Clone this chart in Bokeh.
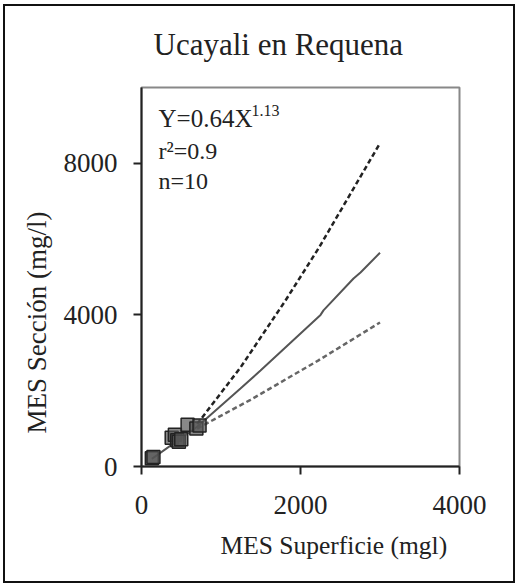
from bokeh.plotting import figure
from bokeh.models import Range1d, FixedTicker, Label, Title
from bokeh.embed import file_html
from bokeh.resources import INLINE

# observed points (MES superficie vs MES seccion)
obs_x = [130, 150, 380, 420, 450, 470, 500, 580, 690, 730]
obs_y = [220, 250, 760, 840, 690, 650, 720, 1100, 1000, 1080]

# fitted power curve
fit_x = [130, 700, 1245, 1497, 2252, 2289, 2667, 2755, 3000]
fit_y = [200, 1050, 2058, 2533, 4000, 4120, 4960, 5119, 5640]

# upper band
up_x = [700, 1245, 1811, 2226, 3000]
up_y = [1120, 2612, 4380, 5752, 8530]

# lower band
lo_x = [700, 1371, 2226, 3000]
lo_y = [1000, 1760, 2800, 3800]

x_ticks = [0, 2000, 4000]
y_ticks = [0, 4000, 8000]

title_text = "Ucayali en Requena"
x_label = "MES Superficie (mgl)"
y_label = "MES Sección (mg/l)"
eq_text = "Y=0.64X"
eq_exp = "1.13"
r2_text = "r²=0.9"
n_text = "n=10"

FONT = "Liberation Serif"
INK = "#222222"

p = figure(width=518, height=587, output_backend="svg", toolbar_location=None,
           x_range=Range1d(0, 4000), y_range=Range1d(0, 10000),
           min_border_left=141, min_border_right=59, min_border_top=87, min_border_bottom=121)
p.background_fill_color = "white"
p.border_fill_color = None
p.outline_line_color = "#888888"
p.outline_line_width = 2
p.grid.visible = False
# outer frame painted as the host background (behind the transparent canvas border area)
p.styles = {
    "background-color": "#ffffff",
    "background-image": ("linear-gradient(#111111,#111111), linear-gradient(#111111,#111111), "
                         "linear-gradient(#111111,#111111), linear-gradient(#111111,#111111)"),
    "background-size": "512px 2px, 512px 2px, 2px 579px, 2px 579px",
    "background-position": "3px 4px, 3px 581px, 3px 4px, 513px 4px",
    "background-repeat": "no-repeat",
}

for ax in (p.xaxis[0], p.yaxis[0]):
    ax.axis_line_color = INK
    ax.axis_line_width = 2
    ax.major_tick_line_color = INK
    ax.major_tick_line_width = 2
    ax.major_tick_out = 8
    ax.major_tick_in = 0
    ax.minor_tick_line_color = None
    ax.major_label_text_font = FONT
    ax.major_label_text_font_size = "27px"
    ax.major_label_text_color = INK

p.xaxis.ticker = FixedTicker(ticks=x_ticks)
p.yaxis.ticker = FixedTicker(ticks=y_ticks)
p.xaxis.major_label_standoff = 21
p.yaxis.major_label_standoff = 16

# title and axis labels as title panels (unclipped, offset along the side)
p.title = Title(text=title_text, align="left", offset=12, standoff=48, vertical_align="top",
                text_font=FONT, text_font_size="31px", text_font_style="normal",
                text_color=INK)
p.add_layout(Title(text=x_label, align="left", offset=79, standoff=25,
                   text_font=FONT, text_font_size="25.5px", text_font_style="normal",
                   text_color=INK), "below")
p.add_layout(Title(text=y_label, align="left", offset=33, standoff=17,
                   text_font=FONT, text_font_size="27px", text_font_style="normal",
                   text_color=INK), "left")

# lines
p.line(up_x, up_y, line_color="#222222", line_width=2.5, line_dash="5 3")
p.line(lo_x, lo_y, line_color="#666666", line_width=2.5, line_dash="5 3")
p.line(fit_x, fit_y, line_color="#555555", line_width=2)

# points
p.scatter(obs_x, obs_y, marker="square", size=13, fill_color="#555555", fill_alpha=0.7,
          line_color="#222222", line_width=1.5)

# annotation text
p.add_layout(Label(x=0, y=10000, x_offset=17, y_offset=-31, text=eq_text,
                   text_font=FONT, text_font_size="25px", text_color=INK,
                   text_baseline="alphabetic"))
p.add_layout(Label(x=0, y=10000, x_offset=110, y_offset=-23, text=eq_exp,
                   text_font=FONT, text_font_size="16px", text_color=INK,
                   text_baseline="alphabetic"))
p.add_layout(Label(x=0, y=10000, x_offset=17, y_offset=-63, text=r2_text,
                   text_font=FONT, text_font_size="24px", text_color=INK,
                   text_baseline="alphabetic"))
p.add_layout(Label(x=0, y=10000, x_offset=17, y_offset=-93, text=n_text,
                   text_font=FONT, text_font_size="24px", text_color=INK,
                   text_baseline="alphabetic"))

open("out.html", "w").write(file_html(p, INLINE))
